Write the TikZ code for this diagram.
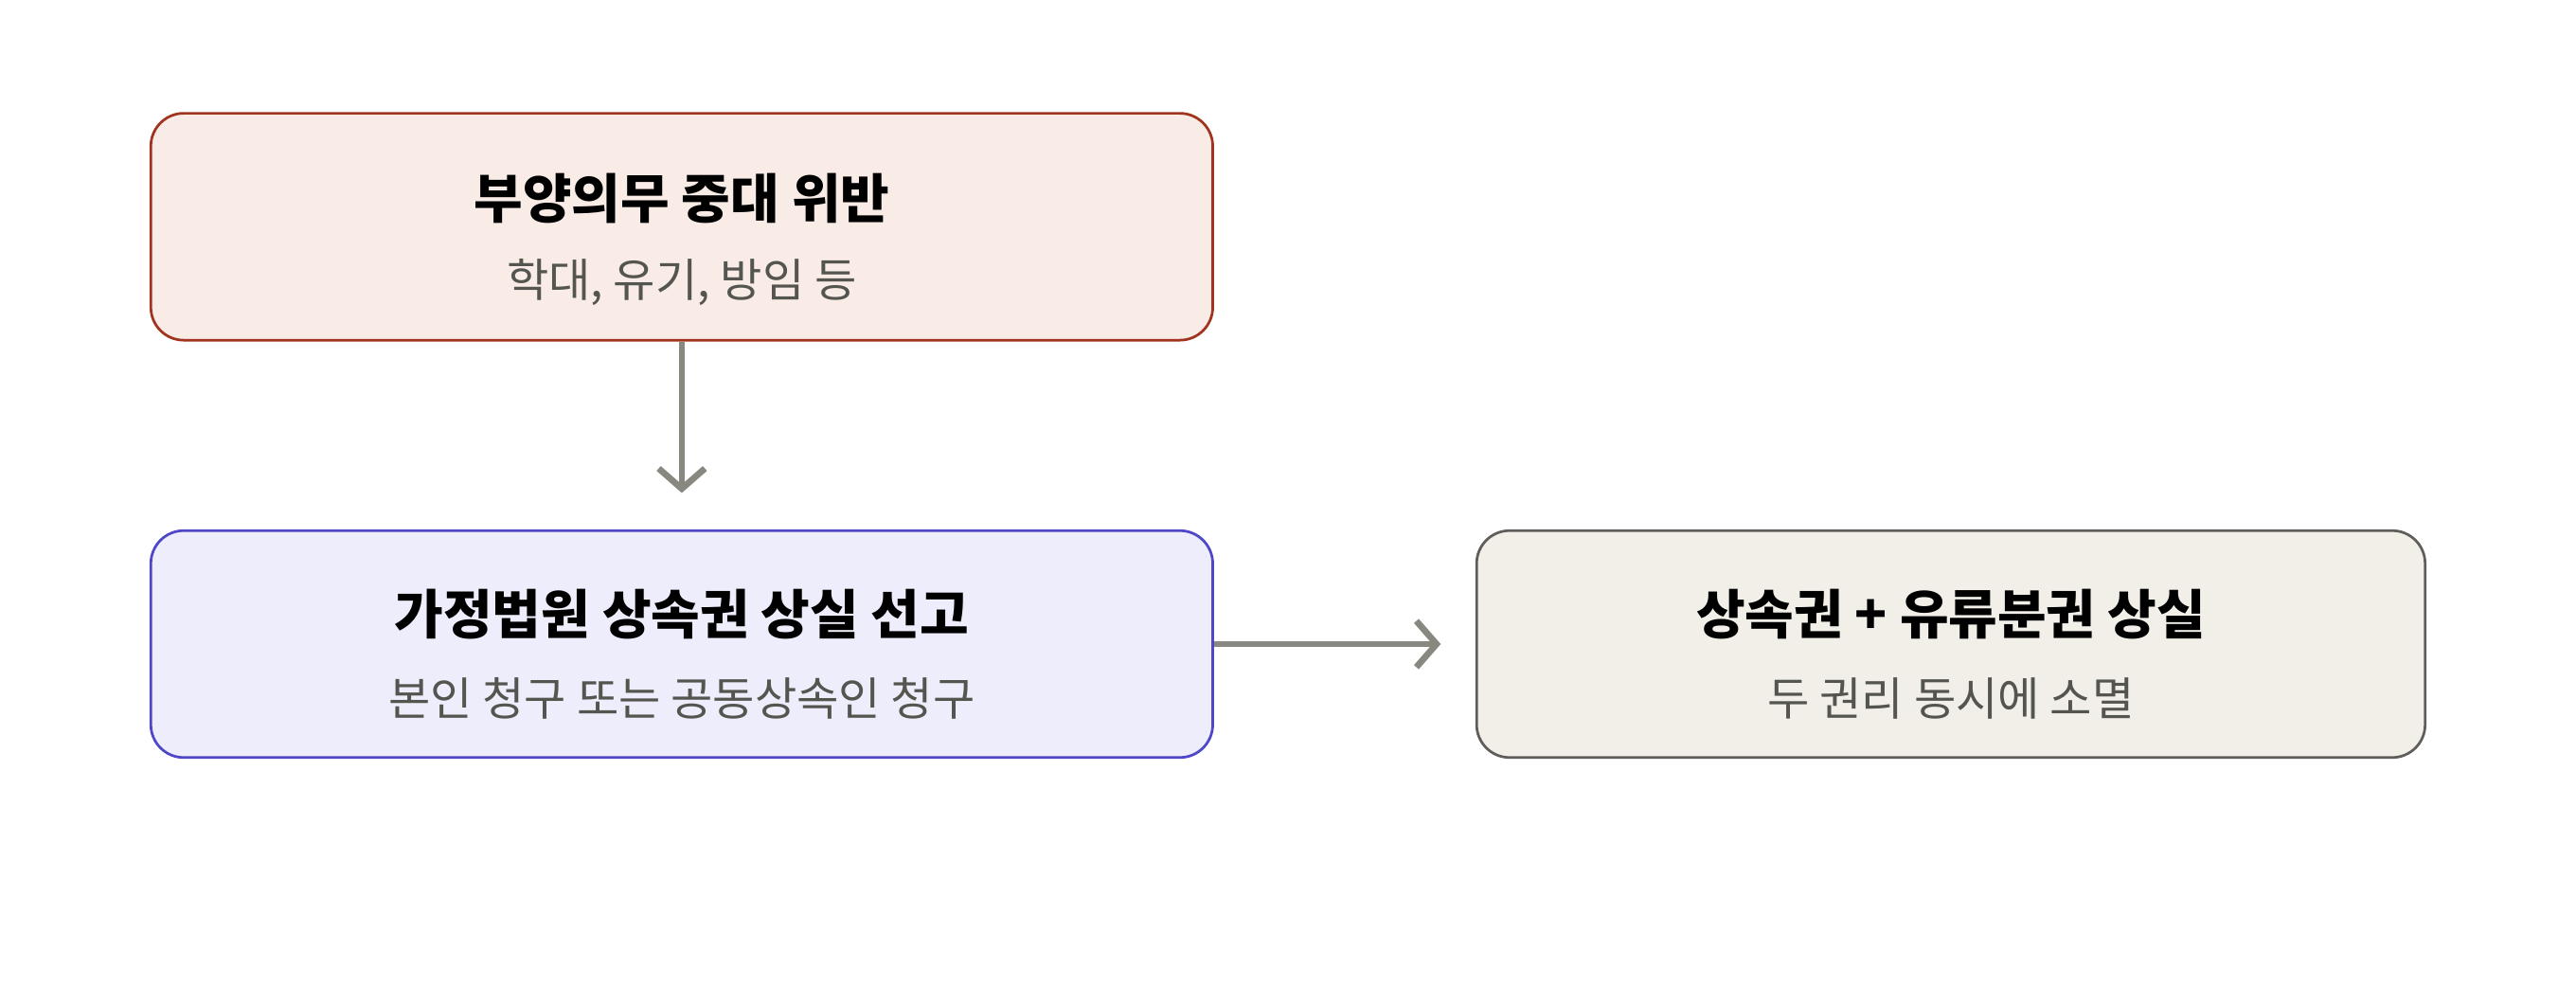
\documentclass[tikz,border=0pt]{standalone}
\usepackage{fontspec}
\setmainfont{Noto Sans CJK KR}
\usetikzlibrary{positioning}
\usetikzlibrary{arrows.meta}
\definecolor{redline}{HTML}{A0341F}
\definecolor{redfill}{HTML}{F9ECE7}
\definecolor{blueline}{HTML}{4F46C8}
\definecolor{bluefill}{HTML}{EDEDFB}
\definecolor{grayline}{HTML}{5F5E5A}
\definecolor{grayfill}{HTML}{F1EFE8}
\definecolor{arrowgray}{HTML}{888780}
\definecolor{subgray}{HTML}{555550}

\begin{document}
\begin{tikzpicture}[x=0.01cm, y=-0.01cm, line width = 0.45pt,
    box/.style = {rounded corners = 0.2cm, minimum height = 1.38cm},
    title/.style = {font = \fontsize{9.2}{11}\selectfont\bfseries, text = black},
    sub/.style = {font = \fontsize{7.9}{9.5}\selectfont, text = subgray},
    link/.style = {-{Straight Barb[length=3.5pt, width=8pt]}, arrowgray, line width = 1.1pt},
]

    \useasboundingbox (0,0) rectangle (1568,600);

    % boxes
    \node (B1) at (415,138) [box, draw = redline, fill = redfill, minimum width = 6.46cm] {};
    \node (B2) at (415,392) [box, draw = blueline, fill = bluefill, minimum width = 6.46cm] {};
    \node (B3) at (1187.5,392) [box, draw = grayline, fill = grayfill, minimum width = 5.77cm] {};

    % texts
    \node (T1) at (415,121) [title] {부양의무 중대 위반};
    \node (S1) at (415,172) [sub] {학대, 유기, 방임 등};
    \node (T2) at (415,374) [title] {가정법원 상속권 상실 선고};
    \node (S2) at (415,425) [sub] {본인 청구 또는 공동상속인 청구};
    \node (T3) at (1187.5,374) [title] {상속권 + 유류분권 상실};
    \node (S3) at (1187.5,425) [sub] {두 권리 동시에 소멸};

    % arrows
    \coordinate (A1) at (415,300);
    \coordinate (A2) at (877,392);
    \draw[link] (B1.south) -- (A1);
    \draw[link] (B2.east) -- (A2);

\end{tikzpicture}
\end{document}
